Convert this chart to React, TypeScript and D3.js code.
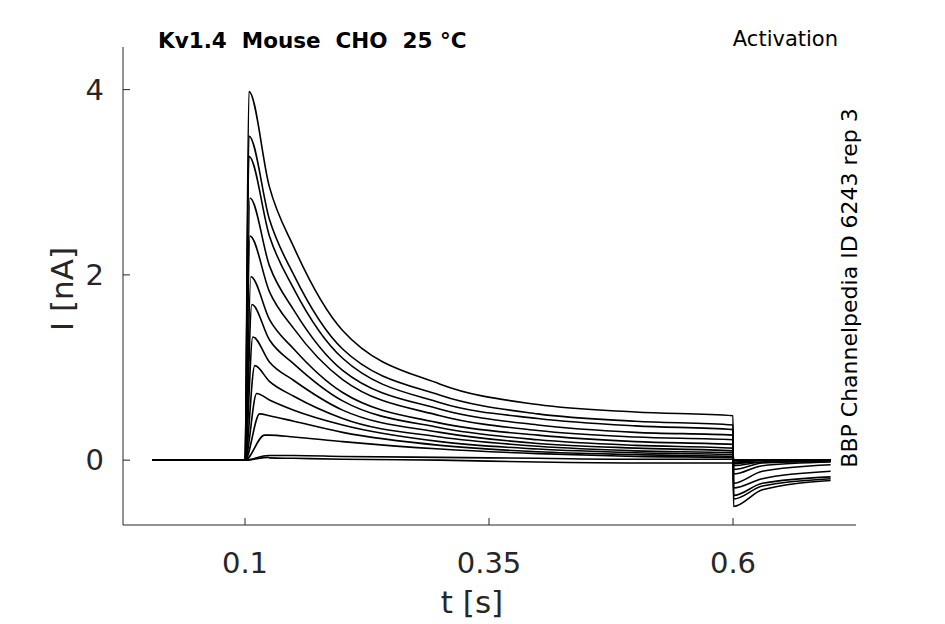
import * as d3 from "d3";

// per trace: [peak, I@0.125, I@0.15, I@0.2, I@0.3, I@0.4, I@0.5, I@0.6, tailMin, tail@0.63, tail@0.7]
const traces: number[][] = [
  [3.98, 2.95, 2.3, 1.4, 0.82, 0.6, 0.52, 0.48, -0.5, -0.32, -0.22],
  [3.5, 2.6, 2.0, 1.2, 0.7, 0.5, 0.42, 0.38, -0.42, -0.28, -0.2],
  [3.28, 2.42, 1.85, 1.1, 0.62, 0.45, 0.37, 0.33, -0.38, -0.25, -0.18],
  [2.83, 2.1, 1.62, 0.97, 0.55, 0.38, 0.3, 0.27, -0.3, -0.2, -0.12],
  [2.42, 1.82, 1.42, 0.87, 0.48, 0.32, 0.25, 0.22, -0.25, -0.12, -0.05],
  [1.98, 1.52, 1.2, 0.73, 0.4, 0.27, 0.2, 0.17, -0.15, -0.06, -0.02],
  [1.68, 1.3, 1.04, 0.64, 0.35, 0.22, 0.16, 0.13, -0.1, -0.03, -0.01],
  [1.33, 1.06, 0.86, 0.54, 0.3, 0.18, 0.13, 0.1, -0.06, -0.02, 0],
  [1.02, 0.85, 0.69, 0.45, 0.25, 0.15, 0.1, 0.08, -0.04, 0, 0],
  [0.72, 0.65, 0.54, 0.38, 0.2, 0.12, 0.08, 0.06, -0.02, 0, 0],
  [0.5, 0.48, 0.42, 0.3, 0.16, 0.09, 0.06, 0.04, 0, 0, 0],
  [0.27, 0.27, 0.25, 0.2, 0.12, 0.07, 0.04, 0.03, 0, 0, 0],
  [0.05, 0.05, 0.05, 0.04, 0.03, 0.02, 0.01, 0.01, 0, 0, 0],
  [0.03, 0.025, 0.02, 0.01, 0, -0.02, -0.03, -0.03, -0.03, -0.02, -0.01],
];
const sampleTimes = [0.125, 0.15, 0.2, 0.3, 0.4, 0.5, 0.6];
const peakTimes = [0.104, 0.104, 0.104, 0.105, 0.105, 0.106, 0.107, 0.108, 0.11, 0.112, 0.115, 0.12, 0.124, 0.124];
const xTicks = [0.1, 0.35, 0.6];
const yTicks = [0, 2, 4];

const W = 945, H = 624;
const x = d3.scaleLinear([-0.025, 0.726], [123, 856]);
const y = d3.scaleLinear([-0.7, 4.46], [525, 47]);

function points(tr: number[], i: number): [number, number][] {
  const p: [number, number][] = [[0.005, 0], [0.1, 0], [peakTimes[i], tr[0]]];
  sampleTimes.forEach((t, k) => p.push([t, tr[k + 1]]));
  p.push([0.6005, tr[8]], [0.63, tr[9]], [0.7, tr[10]]);
  return p;
}

export default function App() {
  const line = d3.line<[number, number]>().x((d) => x(d[0])).y((d) => y(d[1])).curve(d3.curveMonotoneX);
  const col = "#262626";
  return (
    <svg width={W} height={H} style={{ position: "absolute", left: 0, top: 0, background: "#fff" }} fontFamily="DejaVu Sans">
      {traces.map((tr, i) => (
        <path key={i} d={line(points(tr, i))!} fill="none" stroke="#000" strokeWidth={1.6} />
      ))}
      <line x1={123} x2={123} y1={47} y2={525} stroke={col} />
      <line x1={123} x2={856} y1={525} y2={525} stroke={col} />
      {xTicks.map((t) => (
        <g key={t}>
          <line x1={x(t)} x2={x(t)} y1={525} y2={518} stroke={col} />
          <text x={x(t)} y={573} fontSize={29} textAnchor="middle" fill={col}>{t}</text>
        </g>
      ))}
      {yTicks.map((t) => (
        <g key={t}>
          <line x1={123} x2={130} y1={y(t)} y2={y(t)} stroke={col} />
          <text x={104} y={y(t) + 10} fontSize={29} textAnchor="end" fill={col}>{t}</text>
        </g>
      ))}
      <text x={472} y={613} fontSize={31} textAnchor="middle" fill={col}>t [s]</text>
      <text transform="translate(73,289) rotate(-90)" fontSize={31} textAnchor="middle" fill={col}>I [nA]</text>
      <text x={158} y={48} fontSize={21.5} fontWeight="bold" fill="#000" style={{ whiteSpace: "pre" }}>Kv1.4  Mouse  CHO  25 °C</text>
      <text x={838} y={46} fontSize={21} textAnchor="end" fill="#000">Activation</text>
      <text transform="translate(857,288) rotate(-90)" fontSize={22} textAnchor="middle" fill="#000">BBP Channelpedia ID 6243 rep 3</text>
    </svg>
  );
}
